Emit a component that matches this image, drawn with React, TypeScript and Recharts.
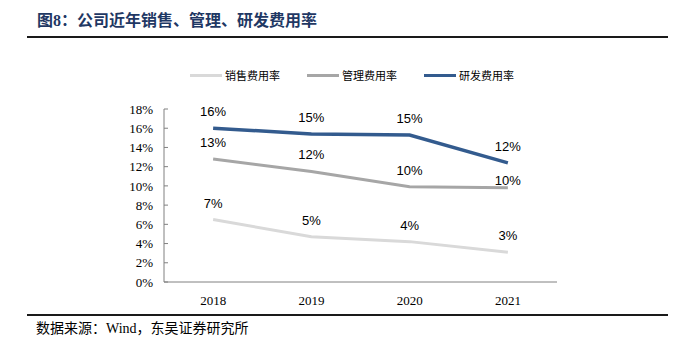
import React from 'react';
import { LineChart, Line, XAxis, YAxis, Legend, LabelList } from 'recharts';

const years = ['2018', '2019', '2020', '2021'];
const salesRate = [6.5, 4.7, 4.2, 3.1];
const mgmtRate = [12.8, 11.5, 9.9, 9.8];
const rdRate = [16.0, 15.4, 15.3, 12.4];
const yTicks = [0, 2, 4, 6, 8, 10, 12, 14, 16, 18];
const bandEdges = [0, 1, 2, 3, 4];

const series = [
  { key: 'sales', name: '销售费用率', color: '#d9d9d9' },
  { key: 'mgmt', name: '管理费用率', color: '#a6a6a6' },
  { key: 'rd', name: '研发费用率', color: '#335b8e' },
];

const data = years.map((y, i) => ({
  year: y,
  sales: salesRate[i],
  mgmt: mgmtRate[i],
  rd: rdRate[i],
}));

const cjk = '"Noto Sans CJK SC", sans-serif';
const serif = '"Liberation Serif", "Times New Roman", serif';

// small vertical nudge for the last 管理 label (sits closer to its line in the source)
const makeLabel = (nudge: number[]) => (props: any) => {
  const { x, y, value, index } = props;
  const dy = nudge[index] || 0;
  return (
    <text
      x={x}
      y={y - 12 + dy}
      textAnchor="middle"
      fontSize={13}
      fill="#000"
      fontFamily='"Liberation Sans", Arial, sans-serif'
    >
      {Math.round(value)}%
    </text>
  );
};

const LegendBox = () => (
  <div style={{ display: 'flex', gap: 27, alignItems: 'center' }}>
    {series.map((s) => (
      <div key={s.key} style={{ display: 'flex', alignItems: 'center' }}>
        <span style={{ display: 'inline-block', width: 32, height: 3, background: s.color, marginRight: 3 }} />
        <span style={{ fontSize: 11, fontFamily: cjk, color: '#000', lineHeight: '14px' }}>{s.name}</span>
      </div>
    ))}
  </div>
);

export default function App() {
  return (
    <div style={{ position: 'fixed', left: 0, top: 0, width: 697, height: 352, background: '#fff' }}>
      <div
        style={{
          position: 'absolute',
          left: 37,
          top: 11,
          fontSize: 16,
          fontWeight: 'bold',
          color: '#1f3864',
          fontFamily: `${serif.split(',')[0]}, ${cjk}`,
          lineHeight: '20px',
          whiteSpace: 'nowrap',
        }}
      >
        图8：公司近年销售、管理、研发费用率
      </div>
      <div style={{ position: 'absolute', left: 27, top: 35.5, width: 641, height: 2, background: '#1a1a1a' }} />

      <div style={{ position: 'absolute', left: 0, top: 0 }}>
        <LineChart width={697} height={352} data={data} margin={{ top: 109, right: 140, bottom: 40, left: 104 }}>
          <XAxis
            xAxisId="edge"
            type="number"
            domain={[0, 4]}
            ticks={bandEdges}
            interval={0}
            tickFormatter={() => ''}
            tickSize={-4}
            tickLine={{ stroke: '#808080' }}
            axisLine={false}
            height={0}
          />
          <XAxis
            dataKey="year"
            scale="band"
            tickLine={false}
            axisLine={{ stroke: '#808080' }}
            tick={{ fontSize: 13, fill: '#000', fontFamily: serif }}
            tickMargin={8}
            height={30}
          />
          <YAxis
            domain={[0, 18]}
            ticks={yTicks}
            interval={0}
            width={60}
            tickSize={-4}
            tickMargin={15}
            axisLine={{ stroke: '#808080' }}
            tickLine={{ stroke: '#808080' }}
            tick={{ fontSize: 13, fill: '#000', fontFamily: serif }}
            tickFormatter={(v: number) => `${v}%`}
          />
          <Legend
            verticalAlign="middle"
            align="center"
            layout="horizontal"
            content={LegendBox}
            wrapperStyle={{ top: 68, left: 190, width: 'auto' }}
          />
          <Line dataKey="sales" name="销售费用率" stroke="#d9d9d9" strokeWidth={3} dot={false} isAnimationActive={false}>
            <LabelList dataKey="sales" content={makeLabel([])} />
          </Line>
          <Line dataKey="mgmt" name="管理费用率" stroke="#a6a6a6" strokeWidth={3} dot={false} isAnimationActive={false}>
            <LabelList dataKey="mgmt" content={makeLabel([0, 0, 0, 9])} />
          </Line>
          <Line dataKey="rd" name="研发费用率" stroke="#335b8e" strokeWidth={3.5} dot={false} isAnimationActive={false}>
            <LabelList dataKey="rd" content={makeLabel([])} />
          </Line>
        </LineChart>
      </div>

      <div style={{ position: 'absolute', left: 27, top: 314, width: 641, height: 2, background: '#1a1a1a' }} />
      <div
        style={{
          position: 'absolute',
          left: 36,
          top: 320,
          fontSize: 14,
          color: '#000',
          fontFamily: `${serif.split(',')[0]}, ${cjk}`,
          lineHeight: '18px',
          whiteSpace: 'nowrap',
        }}
      >
        数据来源：Wind，东吴证券研究所
      </div>
    </div>
  );
}
